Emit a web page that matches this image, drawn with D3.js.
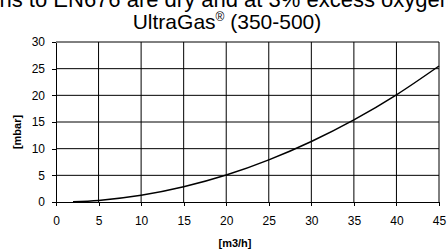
<!DOCTYPE html>
<html>
<head>
<style>
body { margin: 0; background: #fff; font-family: Arial, "Liberation Sans", sans-serif; }
.axis path, .axis line { stroke: #000; shape-rendering: crispEdges; }
.axis text { font-size: 12px; fill: #000; }
.grid line { stroke: #000; stroke-width: 1; }
</style>
</head>
<body>
<div id="chart"></div>
<script src="https://d3js.org/d3.v7.min.js"></script>
<script>
var flowTicks = [0, 5, 10, 15, 20, 25, 30, 35, 40, 45];
var pressureTicks = [0, 5, 10, 15, 20, 25, 30];
var flow = [2, 5, 10, 15, 20, 25, 30, 35, 40, 45];
var pressure = [0.05, 0.3, 1.25, 2.85, 5.05, 7.9, 11.35, 15.4, 20.1, 25.5];

var width = 448, height = 252,
    margin = {top: 42, right: 9, bottom: 50, left: 56};

var svg = d3.select('#chart').append('svg')
  .attr('width', width).attr('height', height);

var x = d3.scaleLinear().domain([0, 45]).range([margin.left, width - margin.right]);
var y = d3.scaleLinear().domain([0, 30]).range([height - margin.bottom, margin.top]);

// grid
svg.append('g').attr('class', 'grid')
  .selectAll('line.v').data(flowTicks.slice(1)).enter().append('line')
  .attr('x1', d => x(d)).attr('x2', d => x(d))
  .attr('y1', y(0)).attr('y2', y(30));
svg.append('g').attr('class', 'grid')
  .selectAll('line.h').data(pressureTicks.slice(1)).enter().append('line')
  .attr('x1', x(0)).attr('x2', x(45))
  .attr('y1', d => y(d)).attr('y2', d => y(d));

svg.append('g').attr('class', 'axis')
  .attr('transform', `translate(0,${y(0)})`)
  .call(d3.axisBottom(x).tickValues(flowTicks).tickSize(4).tickSizeOuter(0).tickPadding(10));
svg.append('g').attr('class', 'axis')
  .attr('transform', `translate(${x(0)},0)`)
  .call(d3.axisLeft(y).tickValues(pressureTicks).tickSize(4).tickSizeOuter(0).tickPadding(7));

var line = d3.line().x(d => x(d[0])).y(d => y(d[1])).curve(d3.curveMonotoneX);
svg.append('path')
  .datum(d3.zip(flow, pressure))
  .attr('d', line)
  .attr('fill', 'none').attr('stroke', '#000').attr('stroke-width', 1.5);

// titles (first line runs off the top/sides like the original)
svg.append('text').attr('x', 452).attr('y', 7).attr('text-anchor', 'end')
  .style('font-size', '22px')
  .text('Emissions to EN676 are dry and at 3% excess oxygen');
var t2 = svg.append('text').attr('x', 227).attr('y', 29).attr('text-anchor', 'middle')
  .style('font-size', '21px');
t2.append('tspan').text('UltraGas');
t2.append('tspan').attr('dy', -8).style('font-size', '12px').text('®');
t2.append('tspan').attr('dy', 8).text(' (350-500)');

svg.append('text').attr('x', 235).attr('y', 247).attr('text-anchor', 'middle')
  .style('font-size', '11px').style('font-weight', 'bold').text('[m3/h]');
svg.append('text').attr('transform', 'translate(21,132) rotate(-90)')
  .attr('text-anchor', 'middle')
  .style('font-size', '11px').style('font-weight', 'bold').text('[mbar]');
</script>
</body>
</html>
